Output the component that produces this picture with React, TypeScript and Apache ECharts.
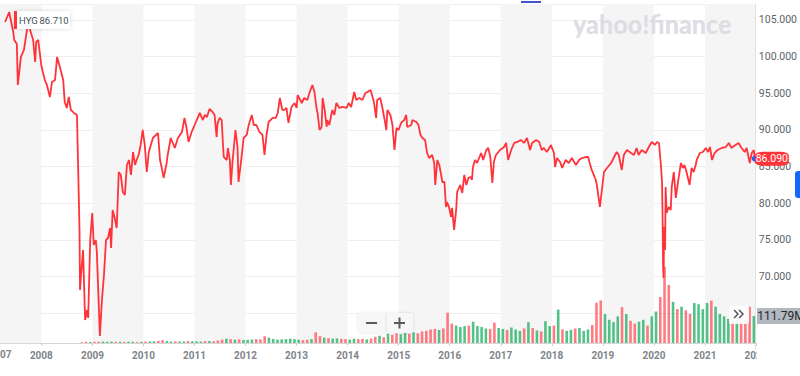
import React, { useEffect, useRef } from 'react';
import * as echarts from 'echarts';

const TICKER = 'HYG';
const HOVER_PRICE = '86.710';
const WATERMARK = 'yahoo!finance';

// decimal years
const priceTimes = [
  2007.29,2007.37,2007.45,2007.47,2007.52,2007.54,2007.60,2007.66,2007.72,2007.74,
  2007.84,2007.88,2007.90,2007.94,2008.00,2008.03,2008.07,2008.11,2008.17,2008.21,
  2008.27,2008.31,2008.37,2008.43,2008.46,2008.50,2008.54,2008.58,2008.64,2008.70,
  2008.72,2008.75,2008.76,2008.78,2008.82,2008.86,2008.90,2008.92,2008.96,2009.00,
  2009.03,2009.07,2009.09,2009.15,2009.19,2009.23,2009.27,2009.31,2009.35,2009.37,
  2009.40,2009.44,2009.48,2009.52,2009.56,2009.60,2009.64,2009.68,2009.72,2009.76,
  2009.80,2009.84,2009.87,2009.91,2009.95,2009.99,2010.03,2010.07,2010.11,2010.15,
  2010.19,2010.29,2010.33,2010.36,2010.40,2010.46,2010.48,2010.54,2010.58,2010.62,
  2010.68,2010.76,2010.81,2010.85,2010.89,2010.95,2011.01,2011.05,2011.11,2011.17,
  2011.21,2011.25,2011.30,2011.36,2011.40,2011.44,2011.46,2011.50,2011.54,2011.56,
  2011.58,2011.64,2011.66,2011.70,2011.72,2011.75,2011.81,2011.85,2011.87,2011.93,
  2011.97,2012.03,2012.07,2012.13,2012.17,2012.22,2012.28,2012.34,2012.38,2012.42,
  2012.46,2012.54,2012.60,2012.64,2012.68,2012.73,2012.77,2012.81,2012.85,2012.91,
  2012.97,2013.01,2013.03,2013.11,2013.16,2013.22,2013.26,2013.32,2013.36,2013.40,
  2013.42,2013.46,2013.50,2013.52,2013.56,2013.60,2013.61,2013.65,2013.71,2013.75,
  2013.79,2013.85,2013.91,2013.99,2014.03,2014.08,2014.14,2014.18,2014.24,2014.30,
  2014.36,2014.40,2014.46,2014.50,2014.53,2014.57,2014.59,2014.65,2014.69,2014.73,
  2014.77,2014.79,2014.85,2014.89,2014.93,2014.97,2015.01,2015.06,2015.12,2015.16,
  2015.18,2015.26,2015.28,2015.36,2015.40,2015.44,2015.48,2015.53,2015.57,2015.61,
  2015.67,2015.71,2015.73,2015.77,2015.81,2015.87,2015.91,2015.94,2015.96,2016.00,
  2016.04,2016.06,2016.10,2016.14,2016.16,2016.22,2016.26,2016.30,2016.34,2016.38,
  2016.43,2016.45,2016.47,2016.51,2016.55,2016.63,2016.67,2016.73,2016.77,2016.81,
  2016.85,2016.88,2016.92,2017.00,2017.08,2017.12,2017.16,2017.22,2017.28,2017.34,
  2017.41,2017.47,2017.53,2017.59,2017.63,2017.71,2017.77,2017.82,2017.86,2017.92,
  2018.00,2018.02,2018.06,2018.08,2018.12,2018.18,2018.22,2018.29,2018.35,2018.41,
  2018.49,2018.55,2018.61,2018.69,2018.73,2018.76,2018.80,2018.84,2018.88,2018.90,
  2018.96,2019.00,2019.04,2019.10,2019.18,2019.23,2019.29,2019.33,2019.39,2019.43,
  2019.49,2019.57,2019.63,2019.68,2019.72,2019.78,2019.86,2019.92,2019.98,2020.04,
  2020.08,2020.12,2020.16,2020.18,2020.19,2020.20,2020.21,2020.22,2020.24,2020.25,
  2020.27,2020.31,2020.35,2020.37,2020.41,2020.45,2020.49,2020.55,2020.59,2020.62,
  2020.66,2020.72,2020.76,2020.80,2020.84,2020.86,2020.92,2020.98,2021.04,2021.08,
  2021.12,2021.16,2021.21,2021.27,2021.35,2021.43,2021.49,2021.54,2021.62,2021.68,
  2021.74,2021.80,2021.84,2021.90,2021.94,2021.98,2022.00,
];

const prices = [
  104.73,106.09,103.36,102.27,101.73,96.14,99.96,100.91,103.64,104.59,
  102.27,99.27,102.00,102.27,98.86,97.91,96.82,96.14,94.50,96.55,
  96.82,99.96,98.46,96.82,93.82,93.00,94.50,92.73,92.32,92.05,
  85.91,76.37,68.19,70.23,73.64,64.09,65.46,64.37,75.00,78.68,
  74.32,75.00,73.37,61.91,66.82,70.23,75.00,75.27,76.64,73.91,
  79.09,78.00,76.64,84.27,83.87,81.55,81.14,85.23,85.91,83.87,
  87.00,85.23,85.91,86.59,87.96,90.00,87.96,84.27,87.00,87.96,
  88.91,89.59,85.91,84.96,83.46,85.50,86.59,88.91,88.23,87.55,
  88.91,89.73,91.64,90.27,88.37,89.73,90.68,91.36,92.32,91.36,
  92.05,91.77,92.86,92.46,92.05,89.05,90.96,91.64,91.36,88.64,
  86.32,85.91,87.55,85.91,82.50,85.50,90.00,87.68,82.91,86.32,
  88.91,89.32,90.68,92.05,90.68,90.68,89.73,89.32,86.59,89.32,
  91.09,91.64,91.64,92.32,94.36,92.73,92.73,93.00,90.96,93.14,
  93.68,93.00,94.77,93.68,94.36,94.09,95.05,96.14,95.18,93.00,
  92.32,90.00,90.41,94.36,92.73,90.41,91.36,90.68,92.73,92.05,
  93.68,93.00,93.14,93.00,93.68,93.14,95.18,94.09,94.36,94.09,
  95.05,95.18,95.46,94.50,93.68,91.64,94.09,94.36,93.14,91.64,
  90.00,92.73,92.05,90.68,87.27,90.27,90.00,90.96,91.36,92.05,
  90.41,90.68,91.36,91.09,90.68,89.32,88.91,88.64,86.86,86.18,
  86.59,85.50,82.50,85.91,85.23,82.91,82.91,79.50,80.18,79.50,
  78.14,79.37,76.37,79.09,81.55,82.50,81.41,83.87,82.50,83.46,
  83.59,83.18,84.96,85.91,85.50,86.86,85.91,87.27,87.55,86.32,
  82.77,85.64,86.59,87.27,87.68,88.23,85.91,87.27,88.23,88.37,
  88.64,88.23,88.91,87.27,88.23,88.64,88.37,87.27,87.55,87.00,
  87.96,87.55,86.86,84.96,86.18,85.64,84.82,85.91,85.50,86.18,
  85.23,85.91,86.18,86.32,86.32,85.50,84.55,83.87,83.18,82.50,
  79.50,81.82,84.27,84.82,85.50,86.18,87.00,86.59,84.55,86.59,
  87.27,86.86,86.59,87.55,86.59,87.27,86.86,87.68,88.37,87.96,
  88.37,88.23,84.96,82.77,78.14,71.32,69.82,76.77,73.64,82.23,
  78.68,79.50,79.09,82.23,84.27,80.73,82.77,85.50,84.82,85.23,
  84.27,82.50,84.82,84.27,85.23,85.91,86.86,87.00,87.55,87.00,
  87.68,85.91,86.86,87.27,87.55,87.68,88.23,87.55,87.96,88.23,
  87.55,87.00,87.55,85.50,86.86,87.27,86.09,
];

// monthly volume (millions), consecutive months starting at volumeStart
const volumeStart = { year: 2008, month: 10 };
const volumes = [
  3, 5, 4,
  5, 5, 6, 5, 6, 5, 5, 4, 5, 5, 4, 5,
  6, 6, 7, 9, 12, 8, 6, 7, 6, 6, 8, 7,
  7, 6, 8, 8, 7, 10, 14, 18, 16, 14, 15, 13,
  13, 14, 16, 15, 28, 22, 17, 14, 15, 16, 18, 16,
  14, 12, 13, 16, 44, 28, 22, 20, 18, 19, 17, 16,
  14, 18, 16, 17, 15, 18, 26, 30, 24, 38, 34, 40,
  36, 42, 38, 44, 40, 48, 50, 56, 58, 54, 60, 125,
  80, 72, 66, 70, 72, 88, 70, 66, 60, 58, 84, 62,
  58, 54, 64, 56, 50, 60, 86, 62, 52, 48, 90, 70,
  72, 138, 56, 50, 54, 60, 62, 50, 56, 74, 166, 176,
  120, 96, 86, 110, 148, 120, 92, 80, 88, 96, 72, 110,
  130, 190, 315, 240, 170, 140, 150, 135, 120, 165, 160, 140,
  165, 175, 150, 120, 110, 100, 95, 105, 90, 100, 150, 111.79,
];

const priceTicks = [70, 75, 80, 85, 90, 95, 100, 105];
const xMin = 2007.19;
const xMax = 2022;

const RED = '#ff333a';
const UP = '#27b46a';
const DOWN = '#ff5a61';

function priceAt(t: number): number {
  let p = prices[0];
  for (let i = 0; i < priceTimes.length; i++) {
    if (priceTimes[i] <= t) p = prices[i];
    else break;
  }
  return p;
}

export default function App() {
  const ref = useRef<HTMLDivElement>(null);
  useEffect(() => {
    if (!ref.current) return;
    const chart = echarts.init(ref.current, undefined, { renderer: 'svg' });

    const lineData = priceTimes.map((t, i) => [t, prices[i]]);
    const volData = volumes.map((v, i) => {
      const m0 = volumeStart.month - 1 + i;
      const y = volumeStart.year + Math.floor(m0 / 12);
      const m = m0 % 12;
      const t0 = y + m / 12;
      const t1 = y + (m + 1) / 12;
      const up = priceAt(t1) >= priceAt(t0);
      return {
        value: [t0 + 0.5 / 12, v],
        itemStyle: { color: up ? UP : DOWN, opacity: 0.8 },
      };
    });
    const lastT = priceTimes[priceTimes.length - 1];
    const lastP = prices[prices.length - 1];
    const lastV = volumes[volumes.length - 1];

    const splitColors = ['rgba(0,0,0,0)'];
    for (let i = 0; i < 12; i++) splitColors.push('#eeeeee');

    const isYear = (v: number) => Math.abs(v - Math.round(v)) < 1e-6;

    const option: any = {
      animation: false,
      textStyle: { fontFamily: 'Roboto' },
      grid: [
        { left: 0, right: 44, top: 4, bottom: 26 },
        { left: 0, right: 44, top: 4, bottom: 33 },
      ],
      xAxis: [
        { type: 'value', gridIndex: 0, min: xMin, max: xMax, minInterval: 1, maxInterval: 1, show: false },
        {
          type: 'value', gridIndex: 1, min: xMin, max: xMax, minInterval: 1, maxInterval: 1,
          axisLine: { show: true, lineStyle: { color: '#d6d6d6' } },
          axisTick: { show: true, length: 3, lineStyle: { color: '#d0d0d0' } },
          axisLabel: {
            color: '#80858b', fontSize: 10, fontWeight: 'bold', margin: 7,
            showMinLabel: false, showMaxLabel: true,
            formatter: (v: number) => (isYear(v) ? String(Math.round(v)) : ''),
          },
          splitLine: { show: false },
          splitArea: { show: true, areaStyle: { color: ['#f5f5f5', 'rgba(255,255,255,0)'] } },
        },
      ],
      yAxis: [
        {
          type: 'value', gridIndex: 0, position: 'right', min: 60, max: 107.18, interval: 5,
          axisLine: { show: true, lineStyle: { color: '#e2e2e2' } },
          axisTick: { show: false },
          axisLabel: {
            color: '#5b636a', fontSize: 10.5, margin: 4,
            formatter: (v: number) => (priceTicks.indexOf(Math.round(v * 1000) / 1000) >= 0 ? v.toFixed(3) : ''),
          },
          splitLine: { show: true, lineStyle: { color: splitColors, width: 1 } },
        },
        { type: 'value', gridIndex: 1, min: 0, max: 1400, show: false },
      ],
      series: [
        {
          type: 'bar', xAxisIndex: 1, yAxisIndex: 1, barWidth: 2.6, data: volData, z: 2,
          markPoint: {
            symbol: 'rect', symbolSize: [46, 16], symbolOffset: [24, 0], silent: true,
            itemStyle: { color: '#b3b8bf' },
            label: { show: true, color: '#232a31', fontSize: 12, formatter: () => lastV.toFixed(2) + 'M', offset: [1, 0] },
            data: [{ coord: [xMax, lastV] }],
          },
        },
        {
          type: 'line', xAxisIndex: 0, yAxisIndex: 0, data: lineData, symbol: 'none', z: 3,
          lineStyle: { color: RED, width: 1.8 },
          markPoint: {
            silent: true,
            data: [
              { coord: [lastT, lastP], symbol: 'circle', symbolSize: 6, itemStyle: { color: '#0f69ff' }, label: { show: false } },
              {
                coord: [xMax, lastP], symbol: 'roundRect', symbolSize: [34, 14], symbolOffset: [17, 0],
                itemStyle: { color: RED },
                label: { show: true, color: '#ffffff', fontSize: 10.5, formatter: () => lastP.toFixed(3) },
              },
            ],
          },
        },
      ],
      graphic: [
        { type: 'rect', z: 100, shape: { x: 757, y: 345, width: 43, height: 31 }, style: { fill: '#ffffff' } },
        { type: 'text', z: 100, x: 0, y: 354, style: { text: '07', fill: '#80858b', font: 'bold 10px Roboto', textVerticalAlign: 'middle' } },
        { type: 'rect', z: 100, shape: { x: 521, y: 1, width: 20, height: 2 }, style: { fill: '#4254d4' } },
        { type: 'text', z: 1, x: 573, y: 24, scaleX: 0.93, style: { text: WATERMARK, fill: '#dcdee3', font: '900 27px Lato', textVerticalAlign: 'middle' } },
        // legend / hover box
        { type: 'rect', z: 100, shape: { x: 14, y: 11, width: 56, height: 18, r: 2 }, style: { fill: '#ffffff', shadowBlur: 4, shadowColor: 'rgba(0,0,0,0.15)' } },
        { type: 'rect', z: 101, shape: { x: 14, y: 11, width: 3, height: 18 }, style: { fill: RED } },
        { type: 'text', z: 101, x: 19, y: 20, style: { text: TICKER, fill: '#464e56', font: '9.5px Roboto', textVerticalAlign: 'middle' } },
        { type: 'text', z: 101, x: 39.5, y: 20, style: { text: HOVER_PRICE, fill: '#464e56', font: '9.5px Roboto', textVerticalAlign: 'middle' } },
        // zoom buttons
        { type: 'rect', z: 100, shape: { x: 358, y: 313, width: 55, height: 20, r: 3 }, style: { fill: '#f7f7f7', shadowBlur: 3, shadowColor: 'rgba(0,0,0,0.12)' } },
        { type: 'line', z: 101, shape: { x1: 386, y1: 314, x2: 386, y2: 332 }, style: { stroke: '#e2e2e2', lineWidth: 1 } },
        { type: 'line', z: 101, shape: { x1: 366, y1: 323, x2: 377, y2: 323 }, style: { stroke: '#5a5a5a', lineWidth: 2 } },
        { type: 'line', z: 101, shape: { x1: 394, y1: 323, x2: 405, y2: 323 }, style: { stroke: '#5a5a5a', lineWidth: 2 } },
        { type: 'line', z: 101, shape: { x1: 399.5, y1: 317.5, x2: 399.5, y2: 328.5 }, style: { stroke: '#5a5a5a', lineWidth: 2 } },
        // scroll chevrons
        { type: 'rect', z: 100, shape: { x: 729, y: 306, width: 20, height: 18, r: 2 }, style: { fill: '#ffffff', opacity: 0.9 } },
        { type: 'polyline', z: 101, shape: { points: [[734, 310], [738, 314], [734, 318]] }, style: { stroke: '#555555', lineWidth: 1.5, fill: null } },
        { type: 'polyline', z: 101, shape: { points: [[739, 310], [743, 314], [739, 318]] }, style: { stroke: '#555555', lineWidth: 1.5, fill: null } },
        // right tab
        { type: 'rect', z: 100, shape: { x: 795, y: 171, width: 8, height: 27, r: 3 }, style: { fill: '#0f69ff' } },
      ],
    };
    chart.setOption(option);
    return () => chart.dispose();
  }, []);

  return (
    <div
      ref={ref}
      style={{ position: 'fixed', left: 0, top: 0, width: 800, height: 376, background: '#ffffff' }}
    />
  );
}
